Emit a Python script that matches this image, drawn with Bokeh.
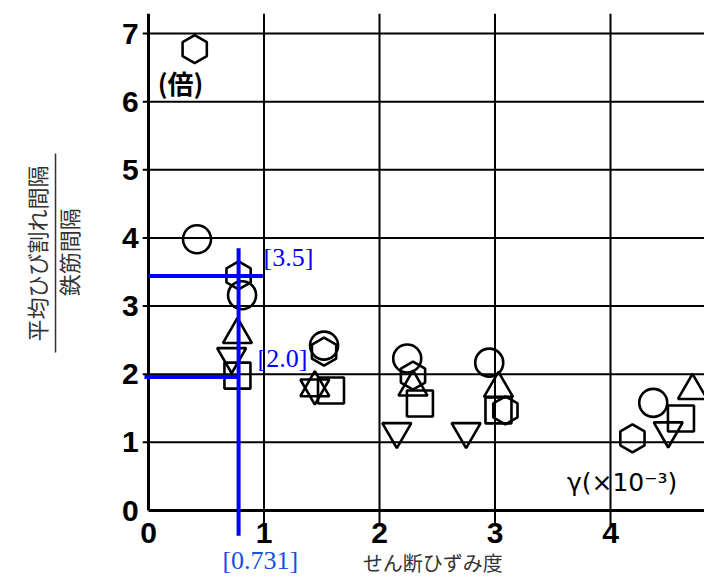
import math
from bokeh.plotting import figure
from bokeh.models import Range1d
from bokeh.core.properties import value
from bokeh.embed import file_html
from bokeh.resources import INLINE

# ---- data ----
hex_x = [0.40, 0.78, 1.52, 2.29, 3.09, 4.19]
hex_y = [6.77, 3.45, 2.33, 1.98, 1.47, 1.06]
circ_x = [0.42, 0.81, 1.52, 2.24, 2.95, 4.37]
circ_y = [3.98, 3.16, 2.42, 2.23, 2.17, 1.58]
tri_x = [0.77, 1.44, 2.29, 3.03, 4.71]
tri_y = [2.58, 1.80, 1.81, 1.79, 1.76]
itri_x = [0.72, 1.44, 2.15, 2.75, 4.50]
itri_y = [2.26, 1.80, 1.16, 1.16, 1.17]
sq_x = [0.77, 1.58, 2.35, 3.03, 4.61]
sq_y = [1.98, 1.76, 1.57, 1.47, 1.35]

x_ticks = [0, 1, 2, 3, 4]
x_tick_labels = ["0", "1", "2", "3", "4"]
y_ticks = [0, 1, 2, 3, 4, 5, 6, 7]
y_tick_labels = ["0", "1", "2", "3", "4", "5", "6", "7"]

ann_vx = 0.78          # vertical blue line position
ann_h1 = 3.44          # upper horizontal blue line
ann_h2 = 1.96          # lower horizontal blue line
ann_texts = ["[3.5]", "[2.0]", "[0.731]"]

y_label_num = "平均ひび割れ間隔"
y_label_den = "鉄筋間隔"
x_label = "せん断ひずみ度"
unit_y = "(倍)"
unit_x = "γ(×10⁻³)"

W, H = 704, 579
PX_X, PX_Y = 115.5, 68.14
X0 = -148 / PX_X
X1 = X0 + W / PX_X
Y1 = 510 / PX_Y
Y0 = Y1 - H / PX_Y

p = figure(width=W, height=H, x_range=Range1d(X0, X1), y_range=Range1d(Y0, Y1),
           x_axis_location=None, y_axis_location=None, toolbar_location=None,
           output_backend="svg", min_border=0)
p.grid.visible = False
p.outline_line_color = None
p.background_fill_color = "white"
p.border_fill_color = "white"

# ---- grid / axes drawn as segments ----
TOP = 7.29
gx = [t for t in x_ticks if t != 0]
p.segment(x0=gx, y0=[-0.22] * len(gx), x1=gx, y1=[TOP] * len(gx), line_color="black", line_width=2)
gy = [t for t in y_ticks if t != 0]
p.segment(x0=[-0.05] * len(gy), y0=gy, x1=[X1] * len(gy), y1=gy, line_color="black", line_width=2)
p.segment(x0=[0], y0=[0], x1=[0], y1=[TOP], line_color="black", line_width=3)
p.segment(x0=[0], y0=[0], x1=[X1], y1=[0], line_color="black", line_width=3)

# tick labels
p.text(x=[-0.085] * len(y_ticks), y=y_ticks, text=y_tick_labels,
       text_font=value("Liberation Sans"), text_font_size=value("30px"), text_font_style="bold",
       text_align="right", text_baseline="middle", text_color="black")
p.text(x=x_ticks, y=[-0.18] * len(x_ticks), text=x_tick_labels,
       text_font=value("Liberation Sans"), text_font_size=value("30px"), text_font_style="bold",
       text_align="center", text_baseline="top", text_color="black")

# ---- markers ----
LW = 2.6
p.scatter(hex_x, hex_y, marker="hex", size=28, angle=math.pi / 2,
          fill_alpha=0, line_color="black", line_width=LW)
p.scatter(circ_x, circ_y, marker="circle", size=28,
          fill_alpha=0, line_color="black", line_width=LW)
p.scatter(tri_x, tri_y, marker="triangle", size=29,
          fill_alpha=0, line_color="black", line_width=LW)
p.scatter(itri_x, itri_y, marker="inverted_triangle", size=29,
          fill_alpha=0, line_color="black", line_width=LW)
p.scatter(sq_x, sq_y, marker="square", size=26,
          fill_alpha=0, line_color="black", line_width=LW)

# ---- unit labels ----
p.text(x=[0.277], y=[6.28], text=[unit_y], text_font=value("Noto Sans CJK JP"),
       text_font_size=value("26px"), text_font_style="bold",
       text_align="center", text_baseline="middle", text_color="black")
p.text(x=[4.10], y=[0.41], text=[unit_x], text_font=value("DejaVu Sans"),
       text_font_size=value("25px"), text_align="center", text_baseline="middle",
       text_color="black")

# ---- axis titles ----
p.text(x=[-0.978], y=[3.77], text=[y_label_num], angle=math.pi / 2,
       text_font=value("Noto Sans CJK JP"), text_font_size=value("22px"),
       text_align="center", text_baseline="middle", text_color="#333333")
p.text(x=[-0.693], y=[3.79], text=[y_label_den], angle=math.pi / 2,
       text_font=value("Noto Sans CJK JP"), text_font_size=value("22px"),
       text_align="center", text_baseline="middle", text_color="#333333")
p.segment(x0=[-0.805], y0=[2.32], x1=[-0.805], y1=[5.24], line_color="#333333", line_width=1.5)
p.text(x=[2.46], y=[-0.76], text=[x_label], text_font=value("Noto Sans CJK JP"),
       text_font_size=value("20px"), text_align="center", text_baseline="middle",
       text_color="#333333")

# ---- blue annotation ----
BLUE = "#0000ff"
p.segment(x0=[ann_vx], y0=[-0.37], x1=[ann_vx], y1=[3.85], line_color=BLUE, line_width=4)
p.segment(x0=[0.0], y0=[ann_h1], x1=[0.99], y1=[ann_h1], line_color=BLUE, line_width=4)
p.segment(x0=[-0.035], y0=[ann_h2], x1=[ann_vx], y1=[ann_h2], line_color=BLUE, line_width=4)
p.text(x=[0.996, 0.944, 0.64], y=[3.71, 2.23, -0.73], text=ann_texts,
       text_font=value("Liberation Serif"), text_font_size=value("26px"),
       text_align="left", text_baseline="middle",
       text_color=[BLUE, BLUE, "#1550e0"])

open("out.html", "w").write(file_html(p, INLINE))
